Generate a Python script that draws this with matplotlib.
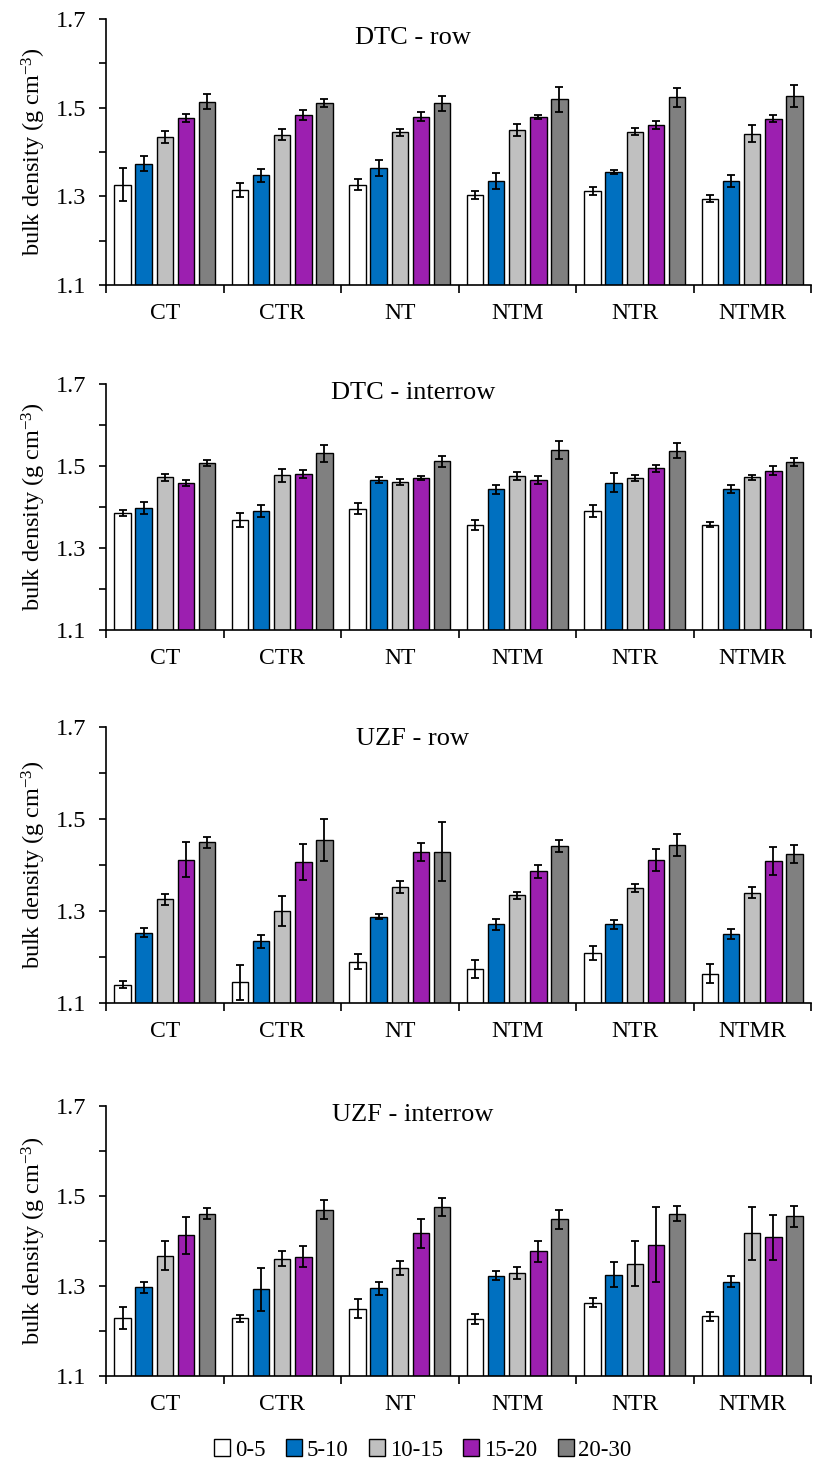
import numpy as np
import matplotlib
matplotlib.use('Agg')
import matplotlib.pyplot as plt
from matplotlib.patches import Patch

plt.rcParams['font.family'] = ['Liberation Serif', 'DejaVu Serif']
plt.rcParams['mathtext.default'] = 'regular'

treatments = ['CT', 'CTR', 'NT', 'NTM', 'NTR', 'NTMR']
depths = ['0-5', '5-10', '10-15', '15-20', '20-30']
colors = ['#FFFFFF', '#0070C0', '#C0C0C0', '#9C1FB0', '#808080']

# rows = depth layers, columns = treatments
dtc_row_mean = [
    [1.326, 1.314, 1.326, 1.303, 1.311, 1.295],
    [1.374, 1.347, 1.363, 1.334, 1.355, 1.335],
    [1.434, 1.439, 1.444, 1.449, 1.446, 1.441],
    [1.476, 1.483, 1.480, 1.479, 1.460, 1.475],
    [1.513, 1.510, 1.510, 1.519, 1.523, 1.526],
]
dtc_row_err = [
    [0.037, 0.016, 0.012, 0.010, 0.009, 0.0075],
    [0.0165, 0.014, 0.018, 0.018, 0.005, 0.013],
    [0.013, 0.013, 0.009, 0.014, 0.008, 0.019],
    [0.009, 0.011, 0.010, 0.005, 0.009, 0.0075],
    [0.017, 0.009, 0.017, 0.028, 0.022, 0.024],
]

dtc_inter_mean = [
    [1.385, 1.368, 1.396, 1.357, 1.390, 1.357],
    [1.398, 1.390, 1.466, 1.443, 1.459, 1.444],
    [1.472, 1.477, 1.461, 1.475, 1.471, 1.472],
    [1.458, 1.480, 1.470, 1.467, 1.494, 1.488],
    [1.508, 1.531, 1.511, 1.538, 1.537, 1.509],
]
dtc_inter_err = [
    [0.0065, 0.018, 0.014, 0.012, 0.0146, 0.007],
    [0.015, 0.014, 0.008, 0.0105, 0.023, 0.0105],
    [0.009, 0.016, 0.008, 0.0095, 0.008, 0.007],
    [0.007, 0.0095, 0.005, 0.0097, 0.008, 0.011],
    [0.007, 0.021, 0.013, 0.022, 0.018, 0.0097],
]

uzf_row_mean = [
    [1.140, 1.145, 1.190, 1.174, 1.208, 1.164],
    [1.253, 1.234, 1.288, 1.271, 1.271, 1.250],
    [1.326, 1.300, 1.353, 1.334, 1.350, 1.340],
    [1.411, 1.406, 1.428, 1.386, 1.411, 1.409],
    [1.449, 1.454, 1.429, 1.441, 1.443, 1.424],
]
uzf_row_err = [
    [0.0076, 0.038, 0.016, 0.020, 0.015, 0.020],
    [0.0105, 0.0145, 0.005, 0.012, 0.0098, 0.0116],
    [0.012, 0.033, 0.013, 0.007, 0.0094, 0.0116],
    [0.038, 0.039, 0.0195, 0.0134, 0.024, 0.030],
    [0.012, 0.045, 0.064, 0.0134, 0.024, 0.019],
]

uzf_inter_mean = [
    [1.229, 1.228, 1.250, 1.226, 1.263, 1.233],
    [1.297, 1.293, 1.295, 1.323, 1.325, 1.310],
    [1.367, 1.361, 1.341, 1.329, 1.350, 1.417],
    [1.413, 1.365, 1.417, 1.377, 1.392, 1.408],
    [1.461, 1.470, 1.476, 1.448, 1.461, 1.455],
]
uzf_inter_err = [
    [0.025, 0.007, 0.0207, 0.011, 0.0096, 0.010],
    [0.013, 0.048, 0.014, 0.0107, 0.0277, 0.012],
    [0.0325, 0.0166, 0.0155, 0.0126, 0.049, 0.059],
    [0.041, 0.023, 0.032, 0.024, 0.083, 0.050],
    [0.0126, 0.022, 0.020, 0.021, 0.017, 0.0237],
]

panels = [
    ('DTC - row', dtc_row_mean, dtc_row_err),
    ('DTC - interrow', dtc_inter_mean, dtc_inter_err),
    ('UZF - row', uzf_row_mean, uzf_row_err),
    ('UZF - interrow', uzf_inter_mean, uzf_inter_err),
]

# axes boxes in pixels: (top, bottom) of the 1.7 .. 1.1 range
W, H = 831, 1463
boxes = [(19, 285), (384, 630), (727, 1003), (1106, 1376)]
title_y = [0.93, 0.962, 0.958, 0.966]
left_px, width_px = 106, 705

fig = plt.figure(figsize=(W / 100, H / 100), dpi=100)

pitch = 0.179
bar_w = 0.14
x = np.arange(len(treatments)) + 0.5

for (title, means, errs), (top, bot), ty in zip(panels, boxes, title_y):
    ax = fig.add_axes([left_px / W, 1 - bot / H, width_px / W, (bot - top) / H])
    for j in range(len(depths)):
        ax.bar(x + (j - 2) * pitch, means[j], width=bar_w, color=colors[j],
               edgecolor='black', linewidth=1.0, zorder=2,
               yerr=errs[j], capsize=3,
               error_kw=dict(ecolor='black', elinewidth=1.3, capthick=1.3))
    ax.set_ylim(1.1, 1.7)
    ax.set_xlim(0, 6)
    ax.set_yticks([1.1, 1.3, 1.5, 1.7])
    ax.set_yticks(np.arange(1.2, 1.7, 0.2), minor=True)
    ax.set_yticklabels(['1.1', '1.3', '1.5', '1.7'])
    ax.set_xticks(np.arange(0, 7))
    ax.set_xticklabels([])
    ax.set_xticks(x, minor=True)
    ax.set_xticklabels(treatments, minor=True)
    ax.tick_params(axis='x', which='major', direction='out', length=6, width=1.2)
    ax.tick_params(axis='x', which='minor', length=0, pad=13, labelsize=17)
    ax.tick_params(axis='y', which='both', direction='out', length=5, width=1.2,
                   pad=9, labelsize=17.5)
    for s in ['top', 'right']:
        ax.spines[s].set_visible(False)
    for s in ['left', 'bottom']:
        ax.spines[s].set_linewidth(1.2)
    ax.set_ylabel('bulk density (g cm$^{-3}$)', fontsize=17.5, labelpad=6)
    ax.text(0.435, ty, title, transform=ax.transAxes, ha='center', va='center',
            fontsize=19)

handles = [Patch(facecolor=c, edgecolor='black', linewidth=1.0) for c in colors]
fig.legend(handles, depths, loc='center', bbox_to_anchor=(0.509, 1 - 1450 / H),
           ncol=5, frameon=False, fontsize=16.5, handlelength=0.7,
           handleheight=0.7, handletextpad=0.2, columnspacing=0.9)

fig.savefig('out.png', dpi=100)
